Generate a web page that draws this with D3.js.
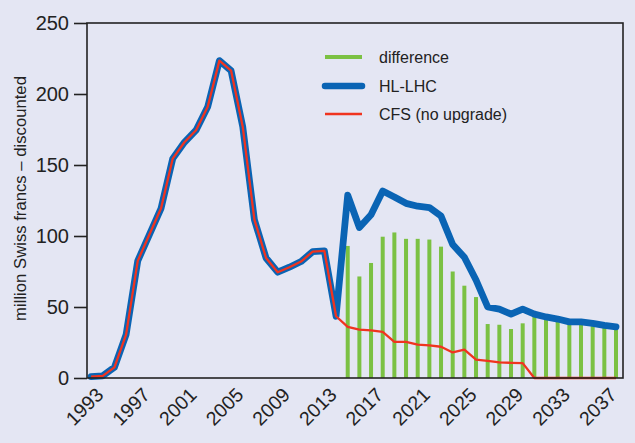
<!DOCTYPE html>
<html>
<head>
<meta charset="utf-8">
<script src="https://cdn.jsdelivr.net/npm/d3@7"></script>
<style>
  html, body { margin: 0; padding: 0; background: #e4e6f3; }
  svg { display: block; font-family: "Liberation Sans", Arial, sans-serif; }
</style>
</head>
<body>
<svg id="chart" width="635" height="443"></svg>
<script>
const years = d3.range(1993, 2039);
const hlLhc = [1, 1.5, 7.5, 30.5, 82.5, 101, 119.5, 154.5, 166, 174.5, 191, 223.5, 216.5, 177, 111.5, 84.5, 74.5, 78, 82, 89, 89.5, 43.5,
  128.7, 106, 115, 131.7, 127.5, 123, 121, 120, 114, 94, 85, 69, 50, 48.5, 45, 48.5, 45, 43, 41.5, 39.5, 39.5, 38.5, 37, 36];
const cfs = [1, 1.5, 7.5, 30.5, 82.5, 101, 119.5, 154.5, 166, 174.5, 191, 223.5, 216.5, 177, 111.5, 84.5, 74.5, 78, 82, 89, 89.5, 43.5,
  36, 34, 33.5, 32.5, 25.5, 25.5, 23.5, 23, 22, 18, 20, 13, 12, 11, 10.7, 10.5, 0, 0, 0, 0, 0, 0, 0, 0];
const diffYears = d3.range(2015, 2039);
const difference = [93, 71.5, 81, 99.5, 102.5, 98, 98, 97.5, 92.5, 75, 65, 57, 38, 37.5, 34.5, 38.5, 44, 42.5, 41, 39, 39, 38, 36.5, 35.5];
const xTicks = d3.range(1993, 2039, 4);
const yTicks = [0, 50, 100, 150, 200, 250];
const legendLabels = ["difference", "HL-LHC", "CFS (no upgrade)"];
const yLabel = "million Swiss francs \u2013 discounted";

const colors = { blue: "#0a64b4", red: "#f0341f", green: "#7bc143", ink: "#222" };

const svg = d3.select("#chart");
const L = 87, R = 623, T = 23, B = 378;
const x = d3.scaleLinear().domain([1992.65, 2038.6]).range([L, R]);
const y = d3.scaleLinear().domain([0, 250]).range([B, T]);

// bars
svg.append("g").selectAll("rect").data(diffYears).join("rect")
  .attr("x", d => x(d) - 2)
  .attr("width", 4)
  .attr("y", (d, i) => y(difference[i]))
  .attr("height", (d, i) => y(0) - y(difference[i]))
  .attr("fill", colors.green);

const line = d3.line().x(d => x(d[0])).y(d => y(d[1]));

svg.append("path")
  .datum(years.map((yr, i) => [yr, hlLhc[i]]))
  .attr("d", line)
  .attr("fill", "none")
  .attr("stroke", colors.blue)
  .attr("stroke-width", 6.8)
  .attr("stroke-linejoin", "round")
  .attr("stroke-linecap", "round");

svg.append("path")
  .datum(years.map((yr, i) => [yr, cfs[i]]))
  .attr("d", line)
  .attr("fill", "none")
  .attr("stroke", colors.red)
  .attr("stroke-width", 2.3)
  .attr("stroke-linejoin", "round");

// frame
svg.append("rect")
  .attr("x", L).attr("y", T).attr("width", R - L).attr("height", B - T)
  .attr("fill", "none").attr("stroke", colors.ink).attr("stroke-width", 1.6);

// y axis
const yAxis = d3.axisLeft(y).tickValues(yTicks).tickSize(13).tickPadding(5);
const gy = svg.append("g").attr("transform", `translate(${L},0)`).call(yAxis);
gy.select(".domain").remove();
gy.selectAll(".tick line").attr("stroke", colors.ink).attr("stroke-width", 1.6);
gy.selectAll(".tick text").attr("fill", colors.ink).style("font-size", "20px")
  .style("font-family", "'Liberation Sans', Arial, sans-serif");

// x axis
const xAxis = d3.axisBottom(x).tickValues(xTicks).tickFormat(d3.format("d")).tickSize(0);
const gx = svg.append("g").attr("transform", `translate(0,${B})`).call(xAxis);
gx.select(".domain").remove();
gx.selectAll(".tick text")
  .attr("fill", colors.ink)
  .style("font-size", "19.5px")
  .style("font-family", "'Liberation Sans', Arial, sans-serif")
  .attr("text-anchor", "end")
  .attr("dy", null)
  .attr("y", 0)
  .attr("transform", "translate(13,18) rotate(-45)");

// y label
svg.append("text")
  .attr("transform", `translate(26,${(T + B) / 2 - 2}) rotate(-90)`)
  .attr("text-anchor", "middle")
  .attr("fill", colors.ink)
  .style("font-size", "16.7px")
  .text(yLabel);

// legend
const lg = svg.append("g");
const rows = [
  { y: 57, color: colors.green, w: 4, cap: "butt" },
  { y: 86, color: colors.blue, w: 6.5, cap: "round" },
  { y: 114, color: colors.red, w: 2.3, cap: "butt" }
];
rows.forEach((r, i) => {
  lg.append("line").attr("x1", 325).attr("x2", 362).attr("y1", r.y).attr("y2", r.y)
    .attr("stroke", r.color).attr("stroke-width", r.w).attr("stroke-linecap", r.cap);
  lg.append("text").attr("x", 379).attr("y", r.y).attr("dy", "0.35em")
    .attr("fill", colors.ink).style("font-size", "16px").text(legendLabels[i]);
});
</script>
</body>
</html>
